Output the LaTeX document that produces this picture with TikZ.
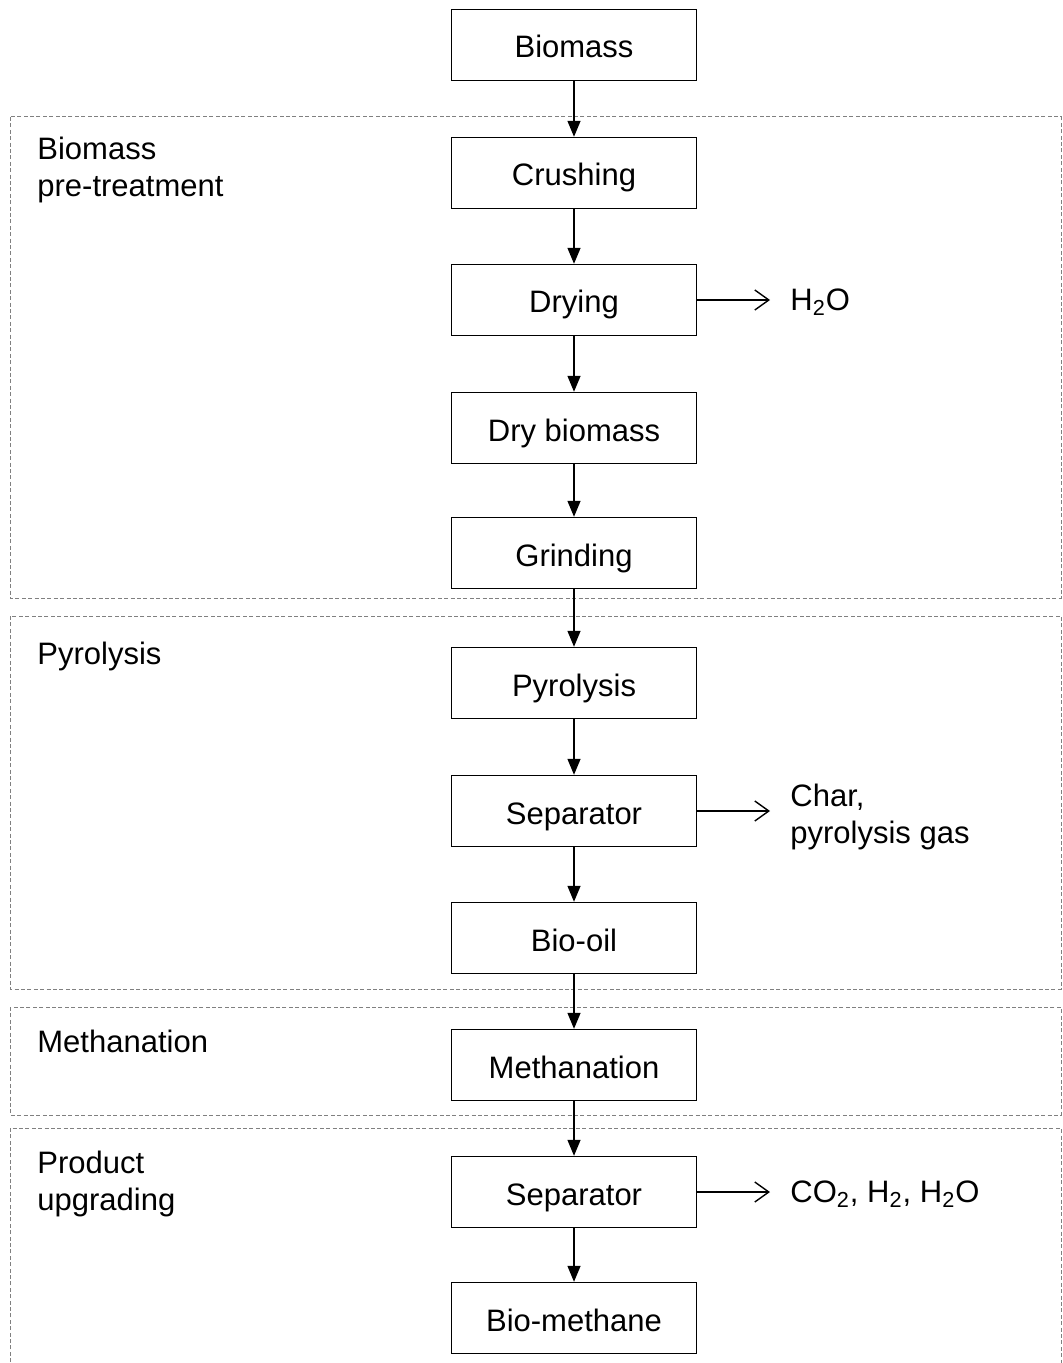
\documentclass[tikz,border=0pt]{standalone}
\usepackage{fontspec}
\setmainfont{Liberation Sans}
\usetikzlibrary{arrows.meta}

\begin{document}
\begin{tikzpicture}[x=0.5pt,y=-0.5pt,
    every node/.style={font=\fontsize{15.5}{18.5}\selectfont},
    stepbox/.style={draw,line width=0.7pt,minimum width=122.5pt,minimum height=35.5pt,inner sep=0pt,text height=13pt,text depth=0pt},
    grouparea/.style={draw=gray,dash pattern=on 2pt off 1.2pt,line width=0.5pt},
    grouptitle/.style={anchor=base west,align=left,inner sep=0pt},
    sidetext/.style={anchor=west,align=left,inner xsep=10pt,inner ysep=0pt},
    flow/.style={-{Triangle[length=8pt,width=6.5pt]},line width=0.7pt},
    sideflow/.style={-{Straight Barb[length=7pt,width=10pt]},line width=0.7pt}]
    \useasboundingbox (0,0) rectangle (1063,1363);

    % stage areas
    \draw [grouparea] (10,117) rectangle (1061,598);
    \draw [grouparea] (10,616) rectangle (1061,989);
    \draw [grouparea] (10,1007) rectangle (1061,1115);
    \draw [grouparea] (10,1375) |- (1061,1128) -- (1061,1375);

    \node [grouptitle] (tpre) at (37,197) {Biomass\\pre-treatment};
    \node [grouptitle] (tpyro) at (37,664) {Pyrolysis};
    \node [grouptitle] (tmeth) at (37,1052) {Methanation};
    \node [grouptitle] (tupg) at (37,1210) {Product\\upgrading};

    % process steps
    \node [stepbox] (biomass) at (574,45) {Biomass};
    \node [stepbox] (crushing) at (574,173) {Crushing};
    \node [stepbox] (drying) at (574,300) {Drying};
    \node [stepbox] (drybio) at (574,428) {Dry biomass};
    \node [stepbox] (grinding) at (574,553) {Grinding};
    \node [stepbox] (pyrolysis) at (574,683) {Pyrolysis};
    \node [stepbox] (sepa) at (574,811) {Separator};
    \node [stepbox] (biooil) at (574,938) {Bio-oil};
    \node [stepbox] (methanation) at (574,1065) {Methanation};
    \node [stepbox] (sepb) at (574,1192) {Separator};
    \node [stepbox] (biomethane) at (574,1318) {Bio-methane};

    % side streams
    \node [sidetext] (water) at (770,302) {H\textsubscript{2}O};
    \node [sidetext] (char) at (770,817) {Char,\\pyrolysis gas};
    \node [sidetext] (gases) at (770,1194) {CO\textsubscript{2}, H\textsubscript{2}, H\textsubscript{2}O};

    \draw [flow] (biomass) -- (crushing);
    \draw [flow] (crushing) -- (drying);
    \draw [flow] (drying) -- (drybio);
    \draw [flow] (drybio) -- (grinding);
    \draw [flow] (grinding) -- (pyrolysis);
    \draw [flow] (pyrolysis) -- (sepa);
    \draw [flow] (sepa) -- (biooil);
    \draw [flow] (biooil) -- (methanation);
    \draw [flow] (methanation) -- (sepb);
    \draw [flow] (sepb) -- (biomethane);

    \draw [sideflow] (drying.east) -- (drying.east -| water.west);
    \draw [sideflow] (sepa.east) -- (sepa.east -| char.west);
    \draw [sideflow] (sepb.east) -- (sepb.east -| gases.west);
\end{tikzpicture}
\end{document}
